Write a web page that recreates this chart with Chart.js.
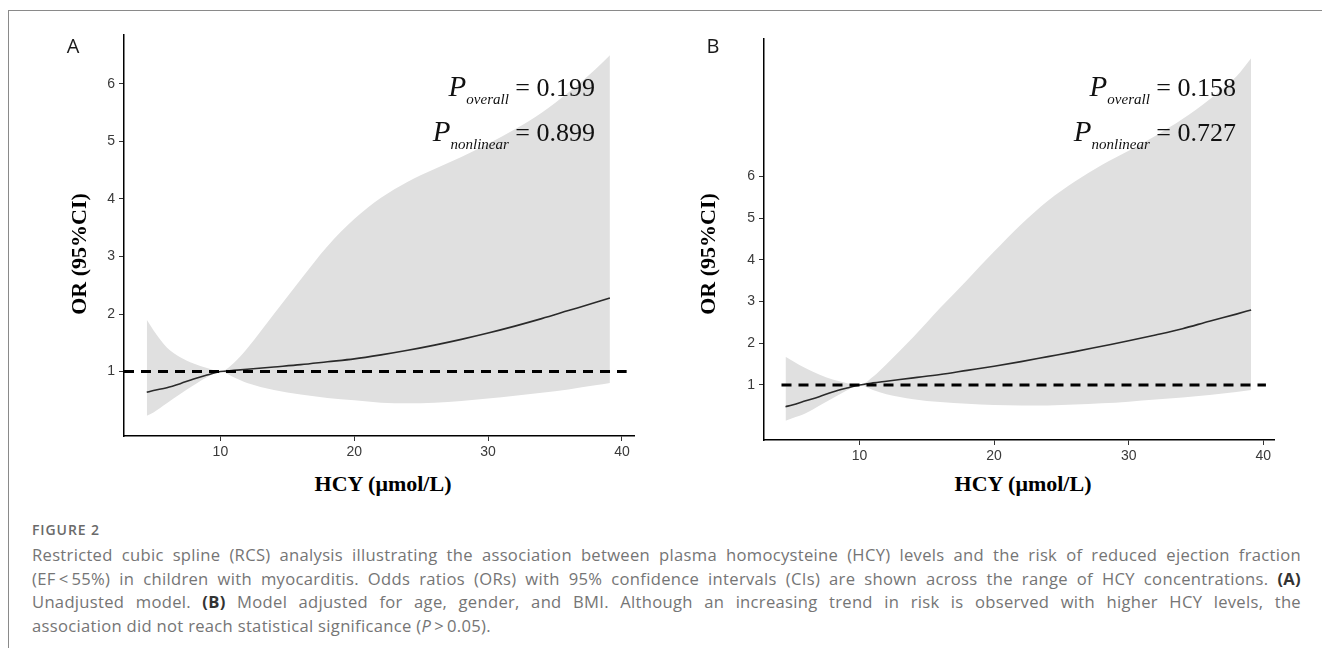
<!DOCTYPE html>
<html>
<head>
<meta charset="utf-8">
<script src="https://cdn.jsdelivr.net/npm/chart.js@4.4.1/dist/chart.umd.min.js"></script>
<style>
  html, body { margin: 0; padding: 0; background: #fff; }
  body { width: 1322px; height: 648px; position: relative; overflow: hidden; }
  .frame { position: absolute; left: 8px; top: 10px; right: -2px; bottom: -2px;
           border-top: 1.5px solid #8a8a8a; border-left: 1.5px solid #8a8a8a; }
  canvas { position: absolute; top: 0; }
  #chartA { left: 0; }
  #chartB { left: 660px; }
  .lbl { position: absolute; transform: translate(-50%, -50%); white-space: nowrap; }
  .panel { font-family: "Open Sans", sans-serif; font-size: 20px; line-height: 20px; color: #1a1a1a; }
  .ytitle { font-family: "Liberation Serif", serif; font-weight: bold; font-size: 22px; line-height: 22px; color: #000;
            transform: translate(-50%, -50%) rotate(-90deg); }
  .xtitle { font-family: "Liberation Serif", serif; font-weight: bold; font-size: 22px; line-height: 22px; color: #000; }
  .pval { position: absolute; font-family: "Liberation Serif", serif; font-size: 26px; line-height: 30px;
          color: #111; white-space: nowrap; text-align: right; }
  .pval .p { font-style: italic; font-size: 29px; }
  .pval sub { font-style: italic; font-size: 15px; vertical-align: -8px; line-height: 0; }
  .caption { position: absolute; left: 32px; width: 1269px; font-family: "Open Sans", sans-serif; color: #757575; }
  .fig { top: 520px; font-size: 14px; line-height: 20px; font-weight: 600; letter-spacing: 0.9px; color: #6a6a6a; }
  .text { top: 543px; font-size: 16.6px; line-height: 23.5px; letter-spacing: 0.3px; }
  .text div { text-align: justify; text-align-last: justify; }
  .text div.last { text-align-last: left; }
  .text b { color: #333; }
</style>
</head>
<body>
<div class="frame"></div>
<canvas id="chartA" width="660" height="470"></canvas>
<canvas id="chartB" width="662" height="470"></canvas>

<div class="lbl panel" style="left:73px; top:46px;">A</div>
<div class="lbl panel" style="left:713px; top:46px;">B</div>

<div class="lbl ytitle" style="left:79px; top:254px;">OR (95%CI)</div>
<div class="lbl ytitle" style="left:708px; top:254px;">OR (95%CI)</div>
<div class="lbl xtitle" style="left:383px; top:484px;">HCY (μmol/L)</div>
<div class="lbl xtitle" style="left:1023px; top:484px;">HCY (μmol/L)</div>

<div class="pval" style="right:727px; top:71px;"><span class="p">P</span><sub>overall</sub> = 0.199</div>
<div class="pval" style="right:727px; top:116px;"><span class="p">P</span><sub>nonlinear</sub> = 0.899</div>
<div class="pval" style="right:86px; top:71px;"><span class="p">P</span><sub>overall</sub> = 0.158</div>
<div class="pval" style="right:86px; top:116px;"><span class="p">P</span><sub>nonlinear</sub> = 0.727</div>

<div class="caption fig">FIGURE 2</div>
<div class="caption text">
  <div>Restricted cubic spline (RCS) analysis illustrating the association between plasma homocysteine (HCY) levels and the risk of reduced ejection fraction</div>
  <div>(EF&thinsp;&lt;&thinsp;55%) in children with myocarditis. Odds ratios (ORs) with 95% confidence intervals (CIs) are shown across the range of HCY concentrations. <b>(A)</b></div>
  <div>Unadjusted model. <b>(B)</b> Model adjusted for age, gender, and BMI. Although an increasing trend in risk is observed with higher HCY levels, the</div>
  <div class="last">association did not reach statistical significance (<i>P</i>&thinsp;&gt;&thinsp;0.05).</div>
</div>

<script>
// --- DATA ---
const hcy = [4.5, 5, 6, 7, 8, 9, 10, 11, 12, 14, 16, 18, 20, 22, 24, 26, 28, 30, 32, 34, 36, 38, 39.1];

// Panel A: unadjusted model
const orA    = [0.64, 0.67, 0.72, 0.79, 0.87, 0.94, 1.00, 1.02, 1.04, 1.08, 1.12, 1.17, 1.22, 1.29, 1.37, 1.46, 1.56, 1.67, 1.79, 1.92, 2.06, 2.20, 2.28];
const upperA = [1.90, 1.72, 1.42, 1.25, 1.14, 1.06, 1.00, 1.15, 1.40, 2.00, 2.60, 3.18, 3.65, 4.02, 4.30, 4.52, 4.73, 4.96, 5.21, 5.50, 5.85, 6.25, 6.50];
const lowerA = [0.23, 0.29, 0.45, 0.61, 0.76, 0.90, 1.00, 0.90, 0.80, 0.68, 0.60, 0.54, 0.50, 0.46, 0.45, 0.46, 0.49, 0.53, 0.58, 0.63, 0.69, 0.76, 0.80];

// Panel B: adjusted for age, gender, BMI
const orB    = [0.48, 0.52, 0.62, 0.72, 0.83, 0.92, 1.00, 1.05, 1.09, 1.17, 1.25, 1.35, 1.45, 1.56, 1.68, 1.80, 1.93, 2.06, 2.20, 2.35, 2.53, 2.70, 2.80];
const upperB = [1.68, 1.58, 1.40, 1.25, 1.13, 1.05, 1.00, 1.20, 1.50, 2.15, 2.85, 3.52, 4.20, 4.85, 5.42, 5.88, 6.28, 6.62, 6.98, 7.38, 7.85, 8.40, 8.84];
const lowerB = [0.14, 0.20, 0.32, 0.50, 0.68, 0.86, 1.00, 0.88, 0.78, 0.66, 0.59, 0.55, 0.52, 0.51, 0.51, 0.53, 0.56, 0.60, 0.65, 0.70, 0.76, 0.83, 0.88];

const refOR = 1;
const xTicks = [10, 20, 30, 40];
const yTicks = [1, 2, 3, 4, 5, 6];

function pts(ys) {
  return hcy.map((x, i) => ({ x: x, y: ys[i] }));
}

function makeChart(id, c) {
  const tickFont = { family: 'Liberation Sans', size: 14 };
  return new Chart(document.getElementById(id), {
    type: 'line',
    data: {
      datasets: [
        { data: [{ x: c.refFrom, y: refOR }, { x: c.refTo, y: refOR }],
          borderColor: '#000', borderWidth: 3, borderDash: [10, 7], pointRadius: 0 },
        { data: pts(c.or), borderColor: '#2a2a2a', borderWidth: 1.6, pointRadius: 0,
          cubicInterpolationMode: 'monotone' },
        { data: pts(c.upper), borderColor: 'rgba(0,0,0,0)', borderWidth: 0, backgroundColor: '#e0e0e0',
          fill: '+1', pointRadius: 0, cubicInterpolationMode: 'monotone' },
        { data: pts(c.lower), borderColor: 'rgba(0,0,0,0)', borderWidth: 0, fill: false,
          pointRadius: 0, cubicInterpolationMode: 'monotone' }
      ]
    },
    options: {
      responsive: false,
      animation: false,
      events: [],
      layout: { padding: { left: 0, top: c.top, right: c.right, bottom: 0 } },
      plugins: { legend: { display: false }, tooltip: { enabled: false } },
      scales: {
        x: {
          type: 'linear', min: c.xMin, max: c.xMax,
          afterBuildTicks: s => { s.ticks = xTicks.map(v => ({ value: v })); },
          afterFit: s => { s.height = c.xHeight; },
          grid: { drawOnChartArea: false, drawTicks: true, tickLength: 5, color: '#333', lineWidth: 1 },
          border: { display: true, color: '#000', width: 1.5 },
          ticks: { color: '#3a3a3a', font: tickFont, padding: 3, maxRotation: 0, autoSkip: false }
        },
        y: {
          type: 'linear', min: c.yMin, max: c.yMax,
          afterBuildTicks: s => { s.ticks = yTicks.map(v => ({ value: v })); },
          afterFit: s => { s.width = c.yWidth; },
          grid: { drawOnChartArea: false, drawTicks: true, tickLength: 5, color: '#333', lineWidth: 1 },
          border: { display: true, color: '#000', width: 1.5 },
          ticks: { color: '#3a3a3a', font: tickFont, padding: 4, autoSkip: false }
        }
      }
    }
  });
}

makeChart('chartA', {
  or: orA, upper: upperA, lower: lowerA,
  refFrom: 2.8, refTo: 40.35,
  xMin: 2.8, xMax: 40.9, yMin: -0.12, yMax: 6.85,
  top: 35, right: 26, yWidth: 124, xHeight: 34
});

makeChart('chartB', {
  or: orB, upper: upperB, lower: lowerB,
  refFrom: 4.2, refTo: 40.2,
  xMin: 2.9, xMax: 40.8, yMin: -0.32, yMax: 9.3,
  top: 39, right: 48, yWidth: 104, xHeight: 30
});
</script>
</body>
</html>
